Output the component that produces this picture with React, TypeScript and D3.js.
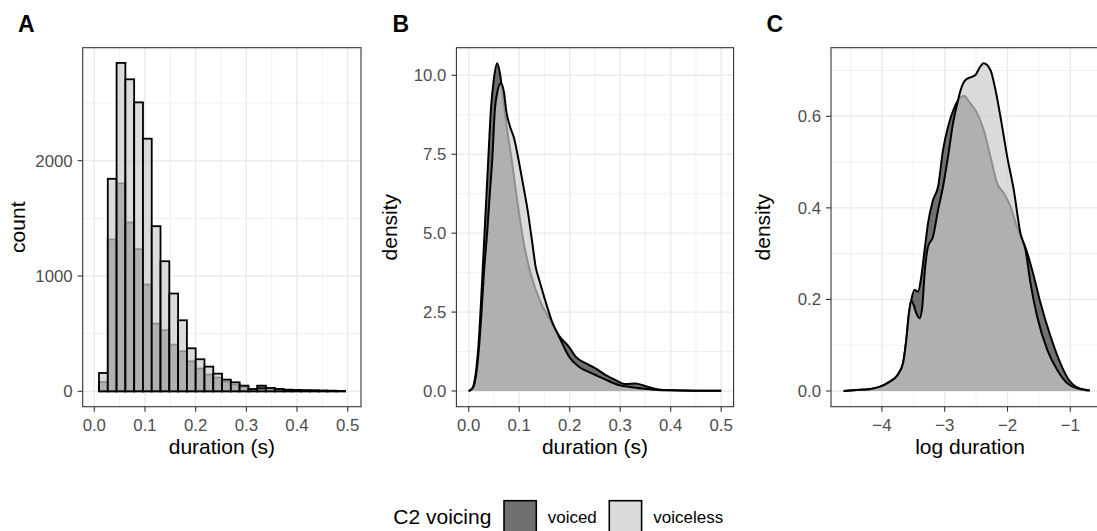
import { useEffect, useRef } from "react";
import * as d3 from "d3";

// histogram bins (left edge, seconds) and counts per voicing group
const binStart = [
  0.0093, 0.0266, 0.044, 0.0613, 0.0787, 0.096, 0.1133, 0.1307, 0.148, 0.1654,
  0.1827, 0.2, 0.2174, 0.2347, 0.2521, 0.2694, 0.2867, 0.3041, 0.3214, 0.3388,
  0.3561, 0.3734, 0.3908, 0.4081, 0.4255, 0.4428, 0.4601, 0.4775,
];
const binWidth = 0.01734;
const countVoiced = [
  81, 1317, 1803, 1464, 1233, 926, 587, 530, 405, 347, 260, 197, 145, 119, 81,
  58, 38, 12, 49, 22, 16, 11, 9, 7, 6, 5, 4, 3,
];
const countVoiceless = [
  159, 1843, 2848, 2706, 2506, 2191, 1432, 1128, 848, 616, 373, 278, 214, 153,
  101, 78, 49, 20, 25, 29, 20, 14, 12, 9, 8, 6, 5, 3,
];

// density of duration (s)
const durVoiced: [number, number][] = [
  [0, 0], [0.005, 0.05], [0.01, 0.2], [0.015, 0.7], [0.02, 1.6], [0.025, 3.0],
  [0.032, 5.2], [0.0387, 7.32], [0.0439, 8.9], [0.05, 9.9], [0.0564, 10.38],
  [0.062, 10.05], [0.068, 9.3], [0.0741, 8.5], [0.0845, 7.4], [0.0977, 5.85],
  [0.1107, 4.55], [0.1239, 3.65], [0.14, 2.9], [0.159, 2.3], [0.1724, 1.92],
  [0.179, 1.75], [0.1986, 1.4], [0.2118, 1.09], [0.2314, 0.88], [0.251, 0.72],
  [0.2707, 0.51], [0.29, 0.35], [0.31, 0.22], [0.33, 0.24], [0.349, 0.16],
  [0.3755, 0.05], [0.4, 0.02], [0.45, 0.01], [0.5, 0.005],
];
const durVoiceless: [number, number][] = [
  [0, 0], [0.005, 0.04], [0.01, 0.15], [0.015, 0.55], [0.02, 1.3], [0.025, 2.4],
  [0.03, 3.7], [0.0374, 5.2], [0.042, 6.3], [0.0466, 7.32], [0.0518, 8.9],
  [0.057, 9.5], [0.0636, 9.75], [0.07, 9.45], [0.0741, 8.9], [0.0813, 8.4],
  [0.09, 8.0], [0.099, 7.3], [0.107, 6.6], [0.117, 5.7], [0.125, 4.8],
  [0.133, 3.9], [0.14, 3.5], [0.15, 2.95], [0.165, 2.2], [0.179, 1.72],
  [0.1986, 1.09], [0.218, 0.77], [0.244, 0.56], [0.27, 0.37], [0.297, 0.19],
  [0.323, 0.12], [0.349, 0.07], [0.375, 0.03], [0.4, 0.02], [0.45, 0.01],
  [0.5, 0.005],
];

// density of log duration
const logVoiced: [number, number][] = [
  [-4.61, 0], [-4.4, 0.002], [-4.2, 0.004], [-4.04, 0.009], [-3.88, 0.02],
  [-3.75, 0.035], [-3.665, 0.06], [-3.612, 0.111], [-3.569, 0.17],
  [-3.532, 0.199], [-3.48, 0.221], [-3.426, 0.217], [-3.373, 0.25],
  [-3.32, 0.308], [-3.266, 0.366], [-3.186, 0.417], [-3.106, 0.446],
  [-3.027, 0.526], [-2.947, 0.577], [-2.84, 0.621], [-2.77, 0.638],
  [-2.698, 0.645], [-2.59, 0.628], [-2.484, 0.607], [-2.379, 0.57],
  [-2.272, 0.512], [-2.165, 0.454], [-2.06, 0.432], [-1.953, 0.403],
  [-1.85, 0.359], [-1.7, 0.308], [-1.58, 0.25], [-1.474, 0.192],
  [-1.314, 0.119], [-1.155, 0.06], [-1.022, 0.024], [-0.89, 0.008],
  [-0.69, 0.001],
];
const logVoiceless: [number, number][] = [
  [-4.61, 0], [-4.4, 0.002], [-4.2, 0.004], [-4.04, 0.009], [-3.88, 0.02],
  [-3.75, 0.035], [-3.665, 0.06], [-3.612, 0.111], [-3.569, 0.17],
  [-3.532, 0.197], [-3.495, 0.188], [-3.453, 0.17], [-3.4, 0.159],
  [-3.357, 0.184], [-3.32, 0.257], [-3.266, 0.315], [-3.186, 0.337],
  [-3.106, 0.395], [-3.027, 0.446], [-2.947, 0.512], [-2.867, 0.585],
  [-2.8, 0.628], [-2.74, 0.66], [-2.671, 0.679], [-2.591, 0.685],
  [-2.51, 0.69], [-2.45, 0.705], [-2.379, 0.716], [-2.272, 0.701],
  [-2.192, 0.658], [-2.112, 0.599], [-2.005, 0.512], [-1.9, 0.439],
  [-1.793, 0.344], [-1.713, 0.308], [-1.633, 0.235], [-1.527, 0.162],
  [-1.367, 0.09], [-1.208, 0.046], [-1.048, 0.017], [-0.889, 0.006],
  [-0.69, 0.001],
];

const durTicks = [0, 0.1, 0.2, 0.3, 0.4, 0.5];
const durMinor = [0.05, 0.15, 0.25, 0.35, 0.45];
const countTicks = [0, 1000, 2000];
const countMinor = [500, 1500, 2500];
const densTicks = [0, 2.5, 5, 7.5, 10];
const densMinor = [1.25, 3.75, 6.25, 8.75];
const logTicks = [-4, -3, -2, -1];
const logMinor = [-4.5, -3.5, -2.5, -1.5];
const logDensTicks = [0, 0.2, 0.4, 0.6];
const logDensMinor = [0.1, 0.3, 0.5, 0.7];

const groups = ["voiced", "voiceless"];
const fills = ["#333333", "#cccccc"];

const FONT = "Liberation Sans, Arial, Helvetica, sans-serif";

export default function App() {
  const svgRef = useRef<SVGSVGElement>(null);

  useEffect(() => {
    const svg = d3.select(svgRef.current);
    svg.selectAll("*").remove();

    const top = 47.7;
    const bottom = 406.7;

    const panel = (opt: any) => {
      const g = svg.append("g");
      const { left, right, x, y } = opt;
      const clipId = "clip-" + opt.label;
      svg
        .append("clipPath")
        .attr("id", clipId)
        .append("rect")
        .attr("x", left)
        .attr("y", top)
        .attr("width", right - left)
        .attr("height", bottom - top);

      const inner = g.append("g").attr("clip-path", `url(#${clipId})`);
      inner
        .append("rect")
        .attr("x", left)
        .attr("y", top)
        .attr("width", right - left)
        .attr("height", bottom - top)
        .attr("fill", "white");

      // grelha
      opt.xMinor.forEach((v: number) =>
        inner.append("line").attr("x1", x(v)).attr("x2", x(v)).attr("y1", top).attr("y2", bottom)
          .attr("stroke", "#ebebeb").attr("stroke-width", 0.7));
      opt.yMinor.forEach((v: number) =>
        inner.append("line").attr("y1", y(v)).attr("y2", y(v)).attr("x1", left).attr("x2", right)
          .attr("stroke", "#ebebeb").attr("stroke-width", 0.7));
      opt.xTicks.forEach((v: number) =>
        inner.append("line").attr("x1", x(v)).attr("x2", x(v)).attr("y1", top).attr("y2", bottom)
          .attr("stroke", "#ebebeb").attr("stroke-width", 1.4));
      opt.yTicks.forEach((v: number) =>
        inner.append("line").attr("y1", y(v)).attr("y2", y(v)).attr("x1", left).attr("x2", right)
          .attr("stroke", "#ebebeb").attr("stroke-width", 1.4));

      opt.draw(inner);

      g.append("rect")
        .attr("x", left)
        .attr("y", top)
        .attr("width", right - left)
        .attr("height", bottom - top)
        .attr("fill", "none")
        .attr("stroke", "#333333")
        .attr("stroke-width", 1.1);

      // eixos
      opt.xTicks.forEach((v: number) => {
        g.append("line").attr("x1", x(v)).attr("x2", x(v)).attr("y1", bottom).attr("y2", bottom + 5)
          .attr("stroke", "#333333").attr("stroke-width", 1.1);
        g.append("text").attr("x", x(v)).attr("y", 430.5).attr("text-anchor", "middle")
          .attr("font-family", FONT).attr("font-size", 16.8).attr("fill", "#4d4d4d")
          .text(opt.xFormat(v));
      });
      opt.yTicks.forEach((v: number) => {
        g.append("line").attr("x1", left - 5).attr("x2", left).attr("y1", y(v)).attr("y2", y(v))
          .attr("stroke", "#333333").attr("stroke-width", 1.1);
        g.append("text").attr("x", left - 10).attr("y", y(v)).attr("dy", "0.36em")
          .attr("text-anchor", "end").attr("font-family", FONT).attr("font-size", 16.8)
          .attr("fill", "#4d4d4d").text(opt.yFormat(v));
      });

      g.append("text").attr("x", (left + right) / 2).attr("y", 454).attr("text-anchor", "middle")
        .attr("font-family", FONT).attr("font-size", 21).attr("fill", "black").text(opt.xTitle);
      g.append("text")
        .attr("transform", `translate(${opt.yTitleX},${(top + bottom) / 2}) rotate(-90)`)
        .attr("text-anchor", "middle").attr("font-family", FONT).attr("font-size", 21)
        .attr("fill", "black").text(opt.yTitle);
      g.append("text").attr("x", opt.labelX).attr("y", 31.7).attr("font-family", FONT)
        .attr("font-size", 23).attr("font-weight", "bold").attr("fill", "black").text(opt.label);
    };

    // A: histograma
    const xA = d3.scaleLinear().domain([0, 0.5]).range([94.3, 347.7]);
    const yA = d3.scaleLinear().domain([0, 2000]).range([391.3, 160.7]);
    panel({
      label: "A", labelX: 18, left: 82.7, right: 361, x: xA, y: yA,
      xTicks: durTicks, xMinor: durMinor, yTicks: countTicks, yMinor: countMinor,
      xFormat: d3.format(".1f"), yFormat: d3.format("d"),
      xTitle: "duration (s)", yTitle: "count", yTitleX: 25,
      draw: (g: any) => {
        [countVoiced, countVoiceless].forEach((counts, gi) => {
          g.selectAll(".bar" + gi)
            .data(binStart)
            .enter()
            .append("rect")
            .attr("x", (d: number) => xA(d))
            .attr("width", (d: number) => xA(d + binWidth) - xA(d))
            .attr("y", (_: number, i: number) => yA(counts[i]))
            .attr("height", (_: number, i: number) => yA(0) - yA(counts[i]))
            .attr("fill", fills[gi])
            .attr("fill-opacity", 0.7)
            .attr("stroke", "black")
            .attr("stroke-width", 1.8);
        });
      },
    });

    const drawDensity = (g: any, x: any, y: any, series: [number, number][][]) => {
      series.forEach((pts, gi) => {
        const area = d3.area<[number, number]>()
          .x((d) => x(d[0])).y0(y(0)).y1((d) => y(d[1])).curve(d3.curveMonotoneX);
        const line = d3.line<[number, number]>()
          .x((d) => x(d[0])).y((d) => y(d[1])).curve(d3.curveMonotoneX);
        g.append("path").datum(pts).attr("d", area).attr("fill", fills[gi]).attr("fill-opacity", 0.7);
        g.append("path").datum(pts).attr("d", line).attr("fill", "none")
          .attr("stroke", "black").attr("stroke-width", 2).attr("stroke-linejoin", "round");
      });
    };

    // B: densidade da duração
    const xB = d3.scaleLinear().domain([0, 0.5]).range([468.7, 721.2]);
    const yB = d3.scaleLinear().domain([0, 10]).range([391, 75.3]);
    panel({
      label: "B", labelX: 392.5, left: 456.4, right: 733.6, x: xB, y: yB,
      xTicks: durTicks, xMinor: durMinor, yTicks: densTicks, yMinor: densMinor,
      xFormat: d3.format(".1f"), yFormat: d3.format(".1f"),
      xTitle: "duration (s)", yTitle: "density", yTitleX: 397,
      draw: (g: any) => drawDensity(g, xB, yB, [durVoiced, durVoiceless]),
    });

    // C: densidade do log
    const xC = d3.scaleLinear().domain([-4, -1]).range([881.9, 1070.3]);
    const yC = d3.scaleLinear().domain([0, 0.6]).range([391, 116.3]);
    panel({
      label: "C", labelX: 766.5, left: 831, right: 1109, x: xC, y: yC,
      xTicks: logTicks, xMinor: logMinor, yTicks: logDensTicks, yMinor: logDensMinor,
      xFormat: d3.format("d"), yFormat: d3.format(".1f"),
      xTitle: "log duration", yTitle: "density", yTitleX: 770,
      draw: (g: any) => drawDensity(g, xC, yC, [logVoiced, logVoiceless]),
    });

    // legenda
    const lg = svg.append("g");
    lg.append("text").attr("x", 393.3).attr("y", 523.5).attr("font-family", FONT)
      .attr("font-size", 21).attr("fill", "black").text("C2 voicing");
    const keyX = [504, 609.3];
    const labelX = [547.7, 653.3];
    groups.forEach((grp, i) => {
      lg.append("rect").attr("x", keyX[i]).attr("y", 500.7).attr("width", 32.3).attr("height", 32.3)
        .attr("fill", fills[i]).attr("fill-opacity", 0.7).attr("stroke", "black").attr("stroke-width", 1.6);
      lg.append("text").attr("x", labelX[i]).attr("y", 523.3).attr("font-family", FONT)
        .attr("font-size", 17).attr("fill", "black").text(grp);
    });
  }, []);

  return (
    <svg
      ref={svgRef}
      width={1097}
      height={531}
      style={{ position: "absolute", left: 0, top: 0, background: "white" }}
    ></svg>
  );
}
